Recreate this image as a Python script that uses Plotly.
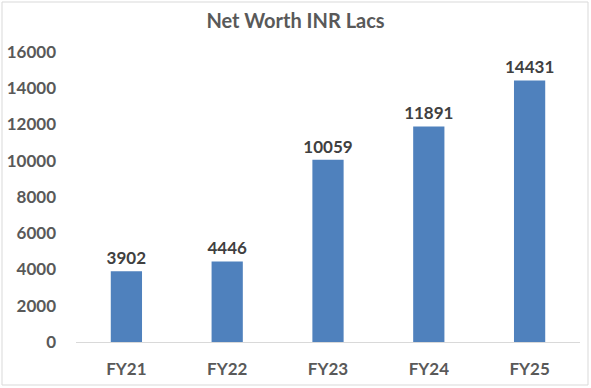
import plotly.graph_objects as go

categories = ["FY21", "FY22", "FY23", "FY24", "FY25"]
net_worth = [3902, 4446, 10059, 11891, 14431]
y_ticks = [0, 2000, 4000, 6000, 8000, 10000, 12000, 14000, 16000]

W, H = 591, 388
ml, mr, mt, mb = 76, 11, 52, 46
pw, ph = W - ml - mr, H - mt - mb

fig = go.Figure(go.Bar(
    x=categories, y=net_worth,
    marker=dict(color="#4F81BD", line=dict(width=0)),
    width=0.31,
    text=[str(v) for v in net_worth],
    textposition="outside",
    constraintext="none",
    textfont=dict(family="Lato", size=17, color="#404040", weight="bold"),
    cliponaxis=False,
    hoverinfo="skip",
))

def px(x):
    return (x - ml) / pw

def py(y):
    return (H - mb - y) / ph

fig.update_layout(
    width=W, height=H,
    margin=dict(l=ml, r=mr, t=mt, b=mb, autoexpand=False),
    paper_bgcolor="white", plot_bgcolor="white",
    showlegend=False,
    title=dict(text="<b>Net Worth INR Lacs</b>", x=0.5, xanchor="center",
               y=1 - 21 / H, yanchor="middle",
               font=dict(family="Lato", size=20, color="#595959")),
    xaxis=dict(showgrid=False, showline=True, linecolor="#D9D9D9", linewidth=1,
               ticks="", automargin=False,
               tickfont=dict(family="Lato", size=17, color="#595959", weight="bold"),
               ticklabelstandoff=12),
    yaxis=dict(range=[0, 16000], tickvals=y_ticks, ticktext=[str(v) for v in y_ticks],
               showgrid=False, zeroline=False, automargin=False,
               showline=False, ticks="",
               tickfont=dict(family="Lato", size=17, color="#595959", weight="bold"),
               ticklabelstandoff=19),
    shapes=[dict(type="rect", xref="paper", yref="paper",
                 x0=px(2), x1=px(588), y0=py(385), y1=py(2),
                 line=dict(color="#D9D9D9", width=1), fillcolor="rgba(0,0,0,0)", layer="above")],
)

fig.write_html("out.html", config={"displayModeBar": False},
               post_script="document.body.style.margin='0';")
